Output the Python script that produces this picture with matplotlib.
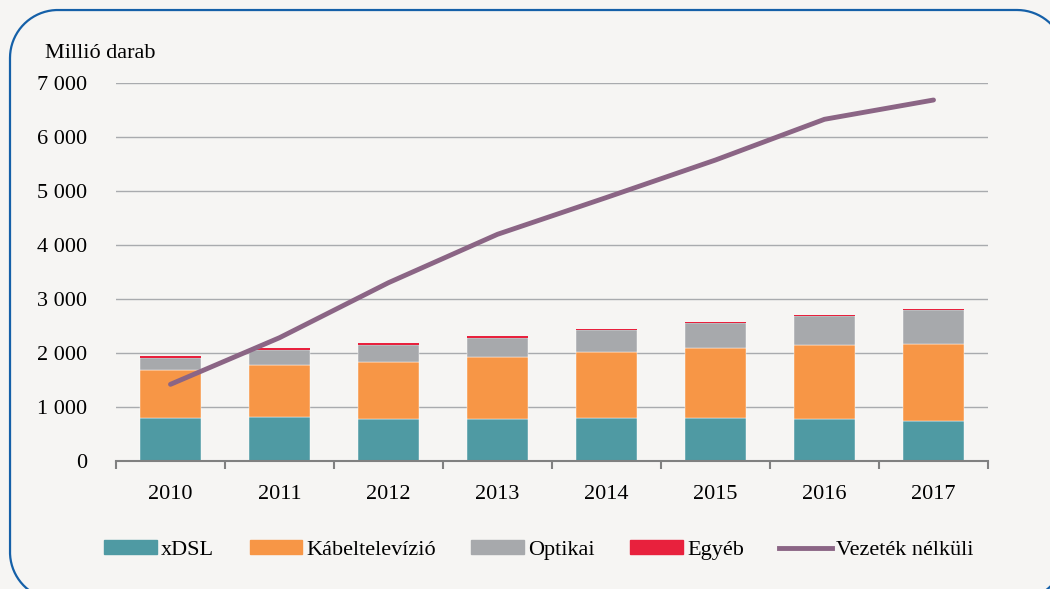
import numpy as np
import matplotlib
matplotlib.use("Agg")
import matplotlib.pyplot as plt
from matplotlib.patches import Patch
from matplotlib.lines import Line2D
from matplotlib.ticker import FuncFormatter, FixedLocator

years = ["2010", "2011", "2012", "2013", "2014", "2015", "2016", "2017"]
xdsl = [800, 808, 785, 772, 790, 796, 785, 748]
kabel = [890, 962, 1055, 1148, 1235, 1303, 1357, 1425]
optikai = [222, 292, 314, 364, 407, 450, 537, 629]
egyeb = [26, 30, 31, 31, 13, 25, 25, 13]
vezetek_nelkuli = [1420, 2283, 3302, 4198, 4880, 5574, 6328, 6685]

c_xdsl = "#4F9AA3"
c_kabel = "#F79646"
c_opt = "#A7A9AC"
c_egyeb = "#E8213D"
c_line = "#8B6585"
bg = "#F6F5F3"

plt.rcParams["font.family"] = ["Liberation Serif", "DejaVu Serif"]

fig = plt.figure(figsize=(10.5, 5.89), dpi=100, facecolor=bg)
ax = fig.add_axes([116 / 1050, 1 - 461 / 589, (988 - 116) / 1050, (461 - 83) / 589])
ax.set_facecolor(bg)


# rounded frame around the whole chart, as a polyline in figure pixels
def rounded_frame(x0, y0, x1, y1, r, n=40):
    pts = []
    corners = [(x1 - r, y1 - r, 0), (x0 + r, y1 - r, 90), (x0 + r, y0 + r, 180), (x1 - r, y0 + r, 270)]
    for cx, cy, a0 in corners:
        t = np.radians(np.linspace(a0, a0 + 90, n))
        pts.append(np.column_stack([cx + r * np.cos(t), cy + r * np.sin(t)]))
    pts = np.vstack(pts + [pts[0][:1]])
    return pts[:, 0], pts[:, 1]


fx, fy = rounded_frame(10, -11, 1065, 579, 48)
fig.lines.append(Line2D(fx, fy, transform=None, color="#1560A8", lw=1.6, zorder=0))

x = np.arange(len(years))
w = 0.56
b1 = np.array(xdsl)
b2 = b1 + np.array(kabel)
b3 = b2 + np.array(optikai)
ax.bar(x, xdsl, w, color=c_xdsl, edgecolor="white", linewidth=0.3, zorder=2)
ax.bar(x, kabel, w, bottom=b1, color=c_kabel, edgecolor="white", linewidth=0.3, zorder=2)
ax.bar(x, optikai, w, bottom=b2, color=c_opt, edgecolor="white", linewidth=0.3, zorder=2)
ax.bar(x, egyeb, w, bottom=b3, color=c_egyeb, linewidth=0, zorder=2)
ax.plot(x, vezetek_nelkuli, color=c_line, lw=3.5, solid_capstyle="round", zorder=3)

ax.set_xlim(-0.5, len(years) - 0.5)
ax.set_ylim(0, 7000)
ax.set_yticks(range(0, 7001, 1000))
ax.yaxis.set_major_formatter(FuncFormatter(lambda v, p: f"{int(v):,}".replace(",", " ")))
ax.grid(axis="y", color="#A9ABAE", linewidth=1, zorder=1)
ax.set_axisbelow(True)

ax.set_xticks(x)
ax.set_xticklabels(years)
ax.xaxis.set_minor_locator(FixedLocator(np.arange(-0.5, len(years), 1)))
ax.tick_params(axis="x", which="major", length=0, pad=17, labelsize=16)
ax.tick_params(axis="x", which="minor", length=6, width=1.5, color="#808080")
ax.tick_params(axis="y", length=0, pad=21, labelsize=16)

for s in ["top", "right", "left"]:
    ax.spines[s].set_visible(False)
ax.spines["bottom"].set_color("#808080")
ax.spines["bottom"].set_linewidth(1.5)

fig.text(45 / 1050, 1 - 54 / 589, "Millió darab", fontsize=16, va="center", ha="left")

handles = [
    Patch(color=c_xdsl, label="xDSL"),
    Patch(color=c_kabel, label="Kábeltelevízió"),
    Patch(color=c_opt, label="Optikai"),
    Patch(color=c_egyeb, label="Egyéb"),
    Line2D([0], [0], color=c_line, lw=3.5, label="Vezeték nélküli"),
]
fig.legend(handles=handles, loc="center", bbox_to_anchor=(539 / 1050, 1 - 550 / 589),
           ncol=5, frameon=False, fontsize=16, handlelength=2.35, handleheight=0.55,
           handletextpad=0.2, columnspacing=1.6)

fig.savefig("out.png", dpi=100, facecolor=bg)
